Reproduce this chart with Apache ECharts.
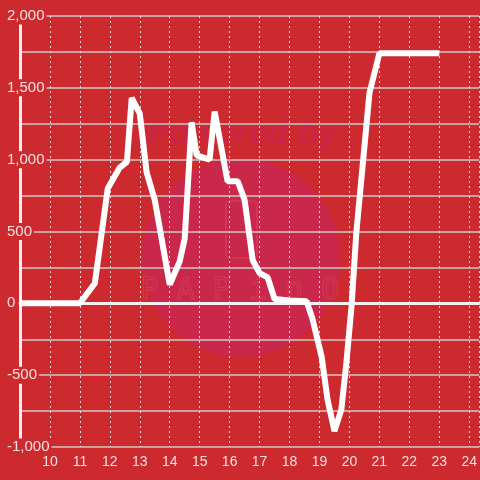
<!DOCTYPE html>
<html>
<head>
<meta charset="utf-8">
<script src="https://cdn.jsdelivr.net/npm/echarts@6/dist/echarts.min.js"></script>
<style>
  html, body { margin: 0; padding: 0; background: #cd2a2f; }
  #main { width: 480px; height: 480px; }
</style>
</head>
<body>
<div id="main"></div>
<script>
// hour of day (x) and value (y)
const hours = [9, 11, 11.5, 11.93, 12.33, 12.57, 12.73, 13, 13.23, 13.5, 14, 14.33, 14.5, 14.73, 14.9, 15.33, 15.5, 15.93, 16.27, 16.5, 16.77, 17, 17.27, 17.5, 18, 18.57, 18.77, 19.07, 19.27, 19.5, 19.73, 19.9, 20.07, 20.23, 20.67, 21, 23];
const values = [0, 0, 140, 800, 945, 985, 1430, 1320, 910, 720, 130, 290, 450, 1260, 1030, 1000, 1335, 850, 850, 720, 300, 210, 180, 30, 20, 15, -110, -370, -670, -890, -740, -410, -20, 490, 1465, 1740, 1740];

const bg = '#cd2a2f';
const chart = echarts.init(document.getElementById('main'));

const option = {
    backgroundColor: bg,
    animation: false,
    grid: { left: 20, right: 0, top: 16, bottom: 33 },
    graphic: [
        { type: 'circle', z: -10, shape: { cx: 241, cy: 258, r: 99 }, style: { fill: '#c9284a' } },
        { type: 'text', z: -10, x: 242, y: 135, style: { text: 'Powered by', fill: '#c82644', font: 'italic bold 34px Liberation Sans', align: 'center', verticalAlign: 'middle' } },
        { type: 'rect', z: -9, shape: { x: 226, y: 201, width: 31, height: 57, r: 4 }, style: { fill: 'none', stroke: '#d23a55', lineWidth: 1.5 } },
        { type: 'text', z: -9, x: 240, y: 291, style: { text: 'P A P i n O', fill: 'none', stroke: '#d23a55', lineWidth: 1, font: '30px DejaVu Sans Mono', align: 'center', verticalAlign: 'middle' } }
    ],
    xAxis: {
        type: 'value',
        min: 9,
        max: 24.3333,
        interval: 1,
        axisLine: { onZero: true, lineStyle: { color: '#f5f0f0', width: 3 } },
        axisTick: { show: false },
        axisLabel: {
            color: '#f0e0e0',
            fontSize: 14,
            fontFamily: 'Liberation Sans',
            showMinLabel: false,
            showMaxLabel: false,
            margin: 8
        },
        splitLine: { show: true, lineStyle: { color: '#e8d8d8', type: [2, 3], width: 1 } }
    },
    yAxis: {
        type: 'value',
        min: -1000,
        max: 2000,
        interval: 250,
        axisLine: { show: true, lineStyle: { color: '#f5f0f0', width: 3 } },
        axisTick: { show: false },
        axisLabel: {
            formatter: v => (v % 500 === 0 ? echarts.format.addCommas(v) : ''),
            color: '#f0e0e0',
            fontSize: 15,
            fontFamily: 'Liberation Sans',
            align: 'left',
            margin: 15,
            backgroundColor: bg,
            padding: [1, 2]
        },
        splitLine: { show: true, lineStyle: { color: '#d0c8c8', width: 1.5 } }
    },
    series: [{
        type: 'line',
        data: hours.map((h, i) => [h, values[i]]),
        showSymbol: false,
        lineStyle: { color: '#ffffff', width: 6 },
        z: 5
    }]
};

chart.setOption(option);
</script>
</body>
</html>
